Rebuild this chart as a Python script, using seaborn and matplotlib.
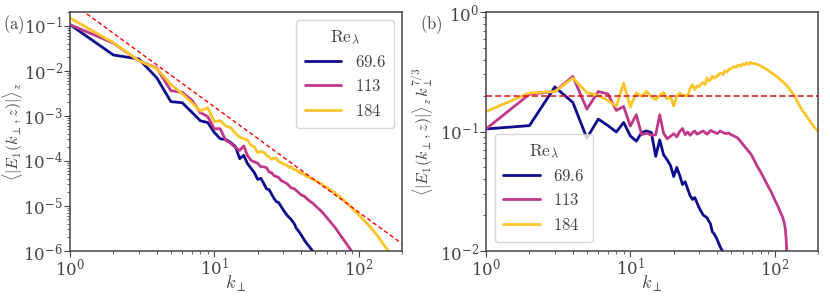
import numpy as np
import pandas as pd
import matplotlib
matplotlib.use("Agg")
import matplotlib.pyplot as plt
import seaborn as sns

# compensated spectra <|E1(k,z)|>_z k^(7/3)
k_lo = [1, 2, 3, 4, 5, 6, 7, 8, 9, 10, 11, 12, 13, 14, 15, 16, 17, 18, 19, 20,
        21, 22, 23, 24, 25, 26, 27, 28, 30, 32, 34, 36, 37, 38, 40, 42, 44, 46, 48, 50]
comp_lo = [0.105, 0.112, 0.236, 0.175, 0.088, 0.127, 0.112, 0.099, 0.119, 0.092,
           0.083, 0.098, 0.101, 0.098, 0.062, 0.085, 0.064, 0.058, 0.052, 0.042,
           0.050, 0.043, 0.036, 0.038, 0.033, 0.029, 0.027, 0.028, 0.023, 0.020,
           0.019, 0.0168, 0.0145, 0.0140, 0.0125, 0.0108, 0.0098, 0.0091, 0.0084, 0.0077]

k_mid = [1, 2, 3, 4, 5, 6, 7, 8, 9, 10, 11, 12, 13, 14, 15, 16, 17, 18, 19, 20,
         21, 22, 23, 24, 25, 26, 27, 28, 29, 30, 32, 34, 35, 36, 38, 40, 42, 44, 46, 48,
         50, 52, 55, 58, 62, 65, 69, 72, 76, 80, 85, 90, 95, 100, 105, 110, 114, 117,
         119, 120, 121, 122, 123]
comp_mid = [0.105, 0.205, 0.216, 0.289, 0.154, 0.216, 0.206, 0.150, 0.162, 0.111,
            0.138, 0.094, 0.097, 0.093, 0.094, 0.138, 0.097, 0.087, 0.091, 0.096,
            0.090, 0.100, 0.106, 0.094, 0.099, 0.093, 0.098, 0.101, 0.095, 0.097,
            0.101, 0.095, 0.098, 0.102, 0.099, 0.096, 0.101, 0.098, 0.096, 0.097,
            0.094, 0.092, 0.089, 0.083, 0.075, 0.070, 0.064, 0.058, 0.051, 0.046,
            0.040, 0.035, 0.031, 0.027, 0.024, 0.021, 0.019, 0.017,
            0.015, 0.013, 0.011, 0.009, 0.007]

k_hi = [1, 2, 3, 4, 5, 6, 7, 8, 9, 10, 11, 12, 13, 14, 15, 16, 17, 18, 19, 20,
        21, 22, 23, 24, 25, 26, 27, 28, 29, 30, 31, 32, 33, 34, 35, 36, 37, 38, 40, 42,
        44, 45, 47, 48, 50, 52, 54, 56, 58, 60, 62, 64, 66, 68, 70, 73, 76, 80, 85, 90,
        95, 100, 105, 110, 117, 125, 131, 137, 145, 153, 161, 170, 180, 190, 200]
comp_hi = [0.147, 0.210, 0.216, 0.280, 0.212, 0.200, 0.182, 0.162, 0.254, 0.160,
           0.210, 0.197, 0.216, 0.195, 0.185, 0.200, 0.212, 0.187, 0.196, 0.163,
           0.197, 0.210, 0.200, 0.201, 0.198, 0.230, 0.246, 0.225, 0.240, 0.238,
           0.250, 0.257, 0.248, 0.280, 0.265, 0.272, 0.290, 0.280, 0.290, 0.308,
           0.300, 0.322, 0.315, 0.330, 0.335, 0.350, 0.345, 0.360, 0.352, 0.368,
           0.360, 0.375, 0.365, 0.380, 0.370, 0.372, 0.362, 0.355, 0.340, 0.325,
           0.310, 0.298, 0.285, 0.270, 0.254, 0.232, 0.215, 0.200, 0.175, 0.155,
           0.143, 0.130, 0.117, 0.108, 0.100]

labels = ["69.6", "113", "184"]
colors = ["#0c0c8c", "#c0388a", "#fcc52a"]

rows = []
for lab, kk, cc in zip(labels, [k_lo, k_mid, k_hi], [comp_lo, comp_mid, comp_hi]):
    for k, c in zip(kk, cc):
        rows.append((lab, k, c, c * k ** (-7 / 3)))
df = pd.DataFrame(rows, columns=["Re", "k", "comp", "E"])

sns.set_style("ticks")
plt.rcParams["mathtext.fontset"] = "cm"
plt.rcParams["font.family"] = ["DejaVu Serif"]
for key in ["text.color", "axes.labelcolor", "xtick.labelcolor", "ytick.labelcolor"]:
    plt.rcParams[key] = "#444444"

fig = plt.figure(figsize=(8.3, 2.96), dpi=100)
ax1 = fig.add_axes([70 / 830, 45 / 296, 332 / 830, 239 / 296])
ax2 = fig.add_axes([486 / 830, 45 / 296, 332 / 830, 239 / 296])

pal = dict(zip(labels, colors))
sns.lineplot(data=df, x="k", y="E", hue="Re", palette=pal, hue_order=labels,
             lw=2.0, ax=ax1, legend=False, sort=True, estimator=None)
sns.lineplot(data=df, x="k", y="comp", hue="Re", palette=pal, hue_order=labels,
             lw=2.0, ax=ax2, legend=False, sort=True, estimator=None)

# k^-7/3 guide lines
ref_k = np.array([1.0, 200.0])
ax1.plot(ref_k, 0.34 * ref_k ** (-7 / 3), color="red", ls="--", lw=1.0, dashes=(3, 2))
ax2.axhline(0.2, color="#e01010", ls="--", lw=1.1, dashes=(4, 2))

for ax in (ax1, ax2):
    ax.set_xscale("log")
    ax.set_yscale("log")
    ax.set_xlim(1, 200)
    ax.set_xlabel(r"$k_\perp$", fontsize=13)
    ax.xaxis.set_label_coords(0.5, -0.098)
    ax.tick_params(labelsize=12, which="major", length=4, pad=1, color="#444444")
    ax.tick_params(which="minor", length=2.2, color="#444444")
    for s in ax.spines.values():
        s.set_color("#444444")
        s.set_linewidth(1.1)

ax1.set_ylim(1e-6, 0.2)
ax2.set_ylim(1e-2, 1)
ax1.set_ylabel(r"$\langle |E_1(k_\perp,z)|\rangle_z$", fontsize=11.5)
ax2.set_ylabel(r"$\langle |E_1(k_\perp,z)|\rangle_z\, k_\perp^{7/3}$", fontsize=11.5)
ax1.yaxis.set_label_coords(-0.136, 0.5)
ax2.yaxis.set_label_coords(-0.15, 0.5)

handles = [plt.Line2D([], [], color=c, lw=2.0) for c in colors]
leg_labels = [r"$%s$" % l for l in labels]
leg_kw = dict(title=r"$\mathrm{Re}_\lambda$", fontsize=12, title_fontsize=12.5, frameon=True,
              handlelength=2.2, borderpad=0.5, labelspacing=0.45, borderaxespad=0)
ax1.legend(handles, leg_labels, loc="upper right", bbox_to_anchor=(0.976, 0.966), **leg_kw)
ax2.legend(handles, leg_labels, loc="lower left", bbox_to_anchor=(0.027, 0.038), **leg_kw)

fig.text(3 / 830, 1 - 25 / 296, r"$\mathrm{(a)}$", fontsize=12, va="center", ha="left")
fig.text(420 / 830, 1 - 25 / 296, r"$\mathrm{(b)}$", fontsize=12, va="center", ha="left")

fig.savefig("out.png", dpi=100)
